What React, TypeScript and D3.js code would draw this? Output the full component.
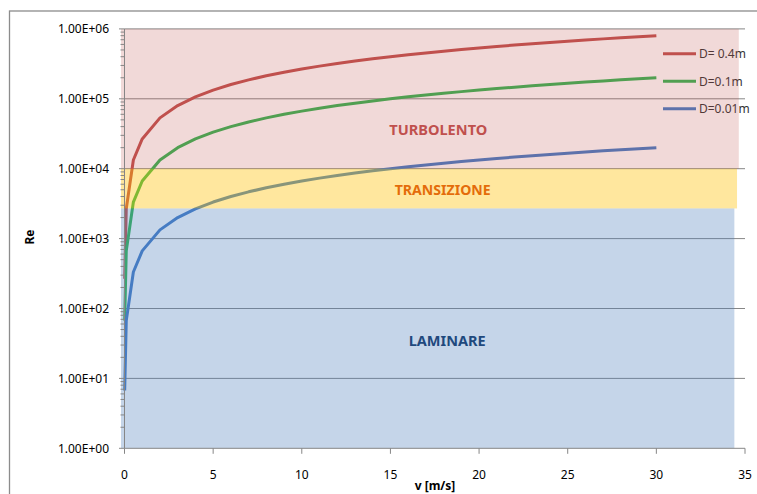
import React from 'react';
import * as d3 from 'd3';

// velocity [m/s]
const speeds = [0.01, 0.1, 0.5, 1, 2, 3, 4, 5, 6, 7, 8, 9, 10, 11, 12, 13, 14, 15, 16, 17, 18, 19, 20, 21, 22, 23, 24, 25, 26, 27, 28, 29, 30];

// Reynolds number
const reD04 = [267, 2667, 13333, 26667, 53333, 80000, 106667, 133333, 160000, 186667, 213333, 240000, 266667, 293333, 320000, 346667, 373333, 400000, 426667, 453333, 480000, 506667, 533333, 560000, 586667, 613333, 640000, 666667, 693333, 720000, 746667, 773333, 800000];
const reD01 = [67, 667, 3333, 6667, 13333, 20000, 26667, 33333, 40000, 46667, 53333, 60000, 66667, 73333, 80000, 86667, 93333, 100000, 106667, 113333, 120000, 126667, 133333, 140000, 146667, 153333, 160000, 166667, 173333, 180000, 186667, 193333, 200000];
const reD001 = [6.7, 67, 333, 667, 1333, 2000, 2667, 3333, 4000, 4667, 5333, 6000, 6667, 7333, 8000, 8667, 9333, 10000, 10667, 11333, 12000, 12667, 13333, 14000, 14667, 15333, 16000, 16667, 17333, 18000, 18667, 19333, 20000];

const seriesNames = ['D= 0.4m', 'D=0.1m', 'D=0.01m'];
const seriesColors = ['#C0504D', '#33B553', '#427BC6'];

// flow regimes
const regimeNames = ['TURBOLENTO', 'TRANSIZIONE', 'LAMINARE'];
const regimeLow = [10000, 2700, 1];
const regimeHigh = [1000000, 10000, 2700];
const regimeEnd = [34.65, 34.55, 34.4];
const regimeFill = ['#C0504D', '#FFC000', '#4F81BD'];
const regimeOpacity = [0.22, 0.38, 0.33];
const regimeLabelColor = ['#C0504D', '#E46C0A', '#1F497D'];
const regimeLabelPos = [[17.7, 36000], [17.95, 5000], [18.2, 35]];
const regimeLabelWidth = [98, 96, 77];

const xTicks = [0, 5, 10, 15, 20, 25, 30, 35];
const yTicks = [1, 10, 100, 1000, 10000, 100000, 1000000];

const W = 757;
const H = 494;
const font = '"Noto Sans", "Open Sans", sans-serif';

export default function App() {
  const x = d3.scaleLinear().domain([0, 35]).range([124.5, 745]);
  const y = d3.scaleLog().domain([1, 1e6]).range([448.3, 28.9]);

  const series = [reD04, reD01, reD001];
  const line = d3.line<[number, number]>()
    .x(d => x(d[0]))
    .y(d => y(d[1]));

  const minors: number[] = [];
  for (let e = 0; e < 6; e++) {
    for (let m = 2; m <= 9; m++) minors.push(m * Math.pow(10, e));
  }

  const bandLeft = x(0) - 3.5;
  const fmt = (v: number) => v.toExponential(2).toUpperCase().replace(/E([+-])(\d)$/, 'E$10$2');

  return (
    <svg width={W} height={H} style={{ position: 'absolute', left: 0, top: 0 }}>
      <rect x={0} y={0} width={W} height={H} fill="#fff" />
      <rect x={9.5} y={11} width={820} height={520} fill="#fff" stroke="#8c8c8c" strokeWidth={1.3} />

      {/* grid */}
      {yTicks.slice(1).map(t => (
        <line key={t} x1={x(0)} x2={x(35)} y1={y(t)} y2={y(t)} stroke="#868686" strokeWidth={1} />
      ))}

      {/* curves */}
      {series.map((s, i) => (
        <path key={i} d={line(speeds.map((v, j) => [v, s[j]]) as [number, number][]) || ''}
          fill="none" stroke={seriesColors[i]} strokeWidth={3} strokeLinejoin="round" />
      ))}

      {/* legend */}
      {seriesNames.map((n, i) => {
        const ly = 53.7 + i * 27.5;
        return (
          <g key={n}>
            <line x1={663} x2={696} y1={ly} y2={ly} stroke={seriesColors[i]} strokeWidth={3} />
            <text x={699} y={ly + 4.3} fontFamily={font} fontSize={12} fill="#333">{n}</text>
          </g>
        );
      })}

      {/* regime bands over the curves */}
      {regimeNames.map((n, i) => (
        <rect key={n} x={bandLeft} y={y(regimeHigh[i])} width={x(regimeEnd[i]) - bandLeft}
          height={y(regimeLow[i]) - y(regimeHigh[i])} fill={regimeFill[i]} fillOpacity={regimeOpacity[i]} />
      ))}

      {regimeNames.map((n, i) => (
        <text key={n} x={x(regimeLabelPos[i][0])} y={y(regimeLabelPos[i][1]) + 5.5} textAnchor="middle"
          fontFamily={font} fontWeight="bold" fontSize={15} fill={regimeLabelColor[i]}
          textLength={regimeLabelWidth[i]} lengthAdjust="spacingAndGlyphs">{n}</text>
      ))}

      {/* y axis */}
      <line x1={x(0)} x2={x(0)} y1={y(1e6)} y2={y(1)} stroke="#868686" />
      {minors.map(m => (
        <line key={m} x1={x(0) - 4} x2={x(0)} y1={y(m)} y2={y(m)} stroke="#868686" />
      ))}
      {yTicks.map(t => (
        <g key={t}>
          <line x1={x(0) - 5.5} x2={x(0)} y1={y(t)} y2={y(t)} stroke="#868686" />
          <text x={109} y={y(t) + 4.3} textAnchor="end" fontFamily={font} fontSize={12} fill="#000">{fmt(t)}</text>
        </g>
      ))}

      {/* x axis */}
      <line x1={x(0)} x2={x(35)} y1={y(1)} y2={y(1)} stroke="#868686" />
      {xTicks.map(t => (
        <g key={t}>
          <line x1={x(t)} x2={x(t)} y1={y(1)} y2={y(1) + 5.5} stroke="#868686" />
          <text x={x(t)} y={478.5} textAnchor="middle" fontFamily={font} fontSize={12} fill="#000">{t}</text>
        </g>
      ))}

      <text transform="translate(34,237) rotate(-90)" textAnchor="middle" fontFamily={font}
        fontWeight="bold" fontSize={12} fill="#000">Re</text>
      <text x={435} y={490} textAnchor="middle" fontFamily={font} fontWeight="bold" fontSize={12} fill="#000">v [m/s]</text>
    </svg>
  );
}
